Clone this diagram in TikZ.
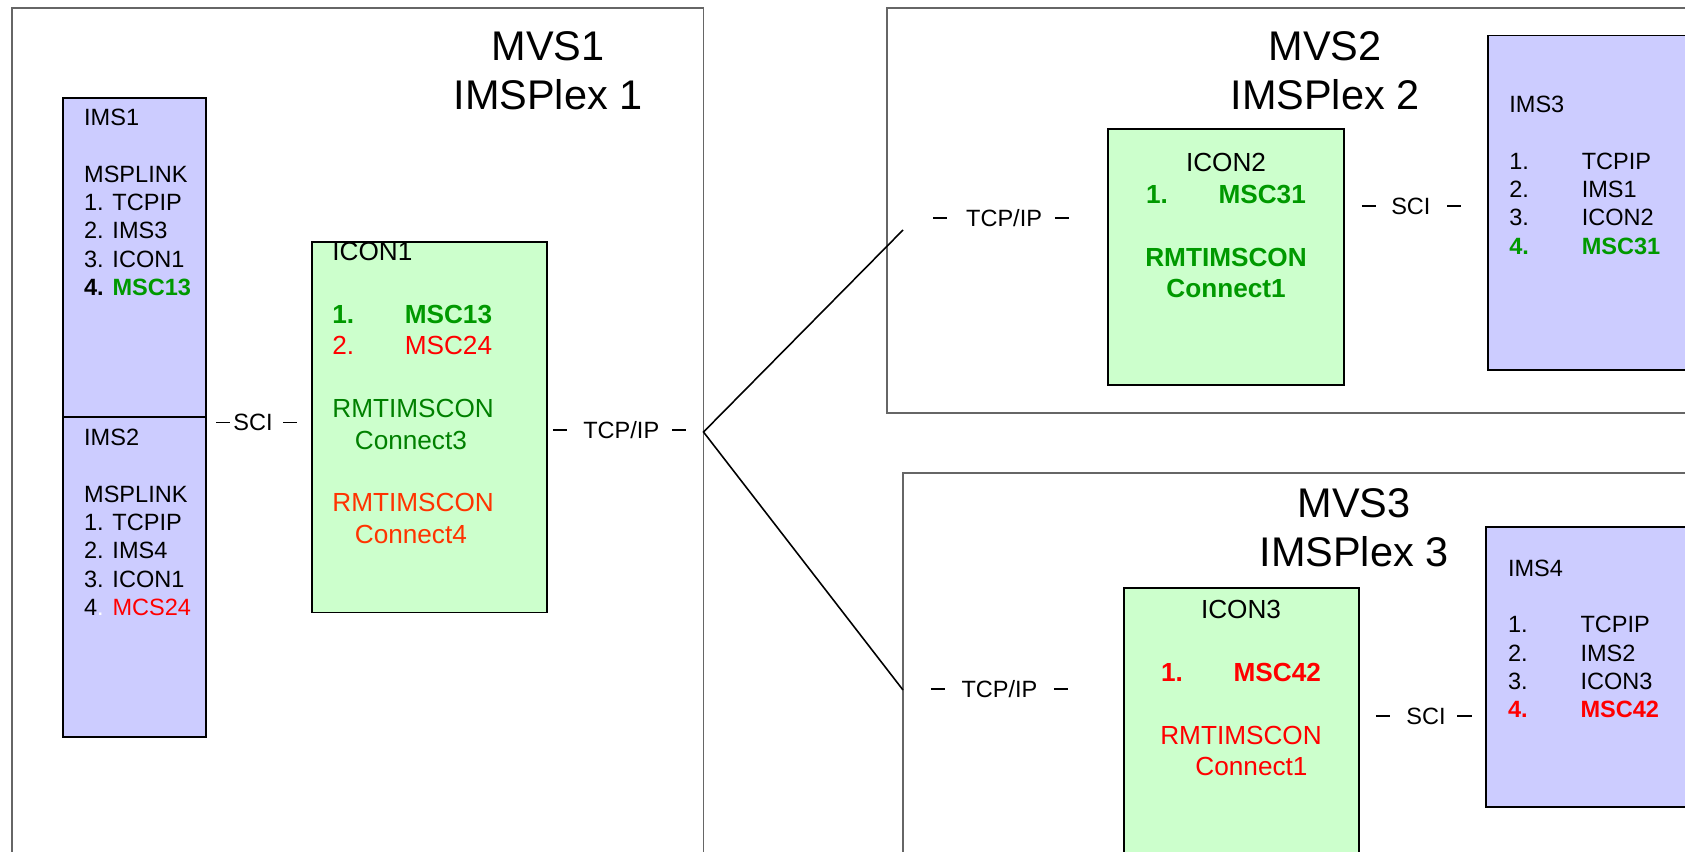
\documentclass[tikz,border=0pt]{standalone}
\usepackage{fontspec}
\setmainfont{Liberation Sans}

\definecolor{imsblue}{RGB}{204,204,255}
\definecolor{icongreen}{RGB}{204,255,204}
\definecolor{mscgreen}{RGB}{0,153,0}
\definecolor{conngreen}{RGB}{0,128,0}
\definecolor{connred}{RGB}{255,51,0}

\newcommand\imsfont{\fontsize{13.4}{16.1}\selectfont}
\newcommand\iconfont{\fontsize{14.9}{17.9}\selectfont}
\newcommand\mvsfont{\fontsize{23.6}{28.3}\selectfont}
\newcommand\numcol[1]{\makebox[1.45cm][l]{#1}}
\newcommand\linkdash{\rule[0.31em]{0.6em}{0.08em}}

\tikzset{
  mvsbox/.style={draw=black!60, line width=0.6pt},
  imsbox/.style={draw=black, fill=imsblue, line width=1.1pt},
  iconbox/.style={draw=black, fill=icongreen, line width=1.1pt},
  imstext/.style={inner sep=0pt, anchor=north west, align=left, font=\imsfont},
  icontext/.style={inner sep=0pt, anchor=north west, align=left, font=\iconfont},
  mvstitle/.style={inner sep=0pt, anchor=north, align=center, font=\mvsfont},
  linklabel/.style={inner sep=0pt, anchor=base west, font=\imsfont},
  link/.style={black, line width=0.9pt}
}

\begin{document}
\begin{tikzpicture}[x=0.02cm,y=-0.02cm]
\useasboundingbox (0,0) rectangle (1685,852);
\clip (0,0) rectangle (1685,852);
% Draw MVS frames
\draw[mvsbox] (12,8) rectangle (703.5,880);
\draw[mvsbox] (887,8) rectangle (1720,413);
\draw[mvsbox] (903,473) rectangle (1720,880);
\node[mvstitle] (mvs1) at (548,25) {\strut MVS1\\IMSPlex 1};
\node[mvstitle] (mvs2) at (1325,25) {\strut MVS2\\IMSPlex 2};
\node[mvstitle] (mvs3) at (1354,482) {\strut MVS3\\IMSPlex 3};
% IMS1 and IMS2
\draw[imsbox] (63.4,97.8) rectangle (206.3,417);
\draw[imsbox] (63.4,417) rectangle (206.3,737);
\node[imstext] (ims1) at (83.8,105.5) {\strut IMS1\\[16.1pt]MSPLINK\\1. TCPIP\\2. IMS3\\3. ICON1\\\textbf{4. \textcolor{mscgreen}{MSC13}}};
\node[imstext] (ims2) at (83.8,425.5) {\strut IMS2\\[16.1pt]MSPLINK\\1. TCPIP\\2. IMS4\\3. ICON1\\4\textcolor{white}{.} \textcolor{red}{MCS24}};
% ICON1
\draw[iconbox] (311.6,241.8) rectangle (547,612.5);
\node[icontext] (icon1) at (332,238) {\strut ICON1\\[17.9pt]\textcolor{mscgreen}{\textbf{\numcol{1.}MSC13}}\\\textcolor{red}{\numcol{2.}MSC24}\\[17.9pt]\textcolor{conngreen}{RMTIMSCON}\\\textcolor{conngreen}{\hspace{0.45cm}Connect3}\\[17.9pt]\textcolor{connred}{RMTIMSCON}\\\textcolor{connred}{\hspace{0.45cm}Connect4}};
\node[linklabel] (sci1) at (216,430.7) {\linkdash\hspace{0.12em}SCI\hspace{0.45em}\linkdash};
\node[linklabel] (tcp1) at (552.4,438.4) {\linkdash\hspace{0.7em}TCP/IP\hspace{0.55em}\linkdash};
% ICON2 and IMS3
\draw[iconbox] (1108,129) rectangle (1344,384.7);
\node[icontext, anchor=north, align=center] (icon2) at (1226,149.5) {\strut ICON2\\\textcolor{mscgreen}{\textbf{\numcol{1.}MSC31}}\\[17.9pt]\textcolor{mscgreen}{\textbf{RMTIMSCON}}\\\textcolor{mscgreen}{\textbf{Connect1}}};
\draw[imsbox] (1488,35.5) rectangle (1720,370);
\node[imstext] (ims3) at (1509,92.5) {\strut IMS3\\[16.1pt]\numcol{1.}TCPIP\\\numcol{2.}IMS1\\\numcol{3.}ICON2\\\textcolor{mscgreen}{\textbf{\numcol{4.}MSC31}}};
\node[linklabel] (tcp2) at (932.8,226.5) {\linkdash\hspace{0.8em}TCP/IP\hspace{0.55em}\linkdash};
\node[linklabel] (sci2) at (1361.5,214.6) {\linkdash\hspace{0.65em}SCI\hspace{0.7em}\linkdash};
% ICON3 and IMS4
\draw[iconbox] (1124,588) rectangle (1359.4,900);
\node[icontext, anchor=north, align=center] (icon3) at (1241,596) {\strut ICON3\\[17.9pt]\textcolor{red}{\textbf{\numcol{1.}MSC42}}\\[17.9pt]\textcolor{red}{RMTIMSCON}\\\textcolor{red}{\hspace{0.42cm}Connect1}};
\draw[imsbox] (1486,526.6) rectangle (1720,807);
\node[imstext] (ims4) at (1507.7,556) {\strut IMS4\\[16.1pt]\numcol{1.}TCPIP\\\numcol{2.}IMS2\\\numcol{3.}ICON3\\\textcolor{red}{\textbf{\numcol{4.}MSC42}}};
\node[linklabel] (tcp3) at (930.6,697) {\linkdash\hspace{0.7em}TCP/IP\hspace{0.7em}\linkdash};
\node[linklabel] (sci3) at (1375.5,724) {\linkdash\hspace{0.7em}SCI\hspace{0.5em}\linkdash};
% TCP/IP links between the MVS frames
\coordinate (hub) at (703.5,432);
\coordinate (mvs2end) at (903,230);
\coordinate (mvs3end) at (903,690);
\draw[link] (mvs2end) -- (hub) -- (mvs3end);
\end{tikzpicture}
\end{document}
